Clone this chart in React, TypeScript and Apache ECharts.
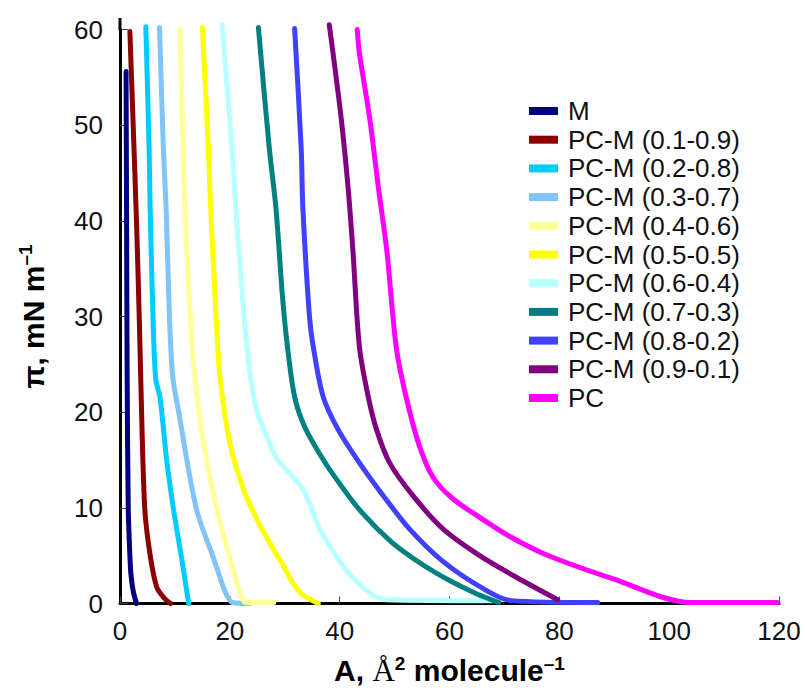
import React, { useEffect, useRef } from "react";
import * as echarts from "echarts";

// [A (Å² molecule⁻¹), π (mN m⁻¹)] — repeated points mark sharp corners
const M = [[1.1, 55.6], [1.2, 40], [1.3, 24], [1.5, 10], [1.8, 5], [2.0, 3], [2.4, 1.3], [3.0, 0]];
const PCM_01 = [[1.8, 59.8], [2.4, 50], [3.0, 40], [3.5, 30], [3.8, 23], [4.5, 10], [5.5, 5], [6.7, 1.7], [8, 0.6], [9.2, 0]];
const PCM_02 = [[4.7, 60.3], [5.3, 47.5], [5.5, 41], [6.0, 30], [6.5, 23.5], [7.3, 21.5], [8.5, 15], [9.7, 10], [11.2, 4.8], [12.5, 0]];
const PCM_03 = [[7.2, 60.2], [7.9, 47.5], [8.4, 41.3], [9.0, 30], [9.6, 23.7], [10.6, 20.3], [13.9, 9.9], [17, 4.8], [19.1, 1.3], [20.5, 0.1], [23.5, 0]];
const PCM_04 = [[10.9, 60], [11.5, 47.5], [11.8, 41.3], [12.8, 30], [13.6, 23.7], [15.2, 16.8], [17.6, 9.9], [20, 4.8], [21.8, 1.3], [23, 0.1], [28, 0.1]];
const PCM_05 = [[15, 60.2], [16.1, 47.5], [16.5, 41.3], [17.5, 30], [18.2, 23.7], [20, 16.8], [22.7, 11.6], [25.3, 8.4], [27.8, 5.8], [29.7, 4.0], [31.5, 2.1], [33.3, 0.9], [36.1, 0]];
const PCM_06 = [[18.6, 60.5], [20.4, 47.5], [21.1, 41.3], [22.6, 30], [23.8, 23.5], [25, 20], [26.7, 17.5], [28.5, 15.2], [31, 13.5], [33.5, 11.8], [36.4, 7.8], [40, 4.4], [43.6, 2.0], [46, 0.9], [48.5, 0.4], [68, 0.3]];
const PCM_07 = [[25.2, 60.2], [27.2, 47.5], [28.4, 41.3], [29.6, 32], [30.5, 26.8], [31.8, 21.6], [33.6, 18.5], [33.6, 18.5], [36.5, 15.5], [39.4, 13], [43.9, 9.6], [49.5, 6.4], [55, 4.1], [60, 2.4], [65, 1.0], [69, 0.1]];
const PCM_08 = [[31.8, 60.1], [33, 47.5], [33.3, 41.3], [34.5, 30], [35.2, 26.8], [37, 21.6], [39.7, 18.2], [43.6, 14.7], [47.9, 11.3], [52.7, 7.8], [58.8, 4.4], [66, 1.6], [71.2, 0.3], [71.2, 0.3], [87, 0.1]];
const PCM_09 = [[38.1, 60.5], [38.8, 57.5], [40.3, 50.6], [41.5, 43.7], [42.4, 37], [43.6, 26.8], [45.2, 21.6], [46.7, 18.2], [49.1, 14.7], [53.3, 11.3], [58.8, 7.8], [65.5, 5.0], [72, 2.8], [79.7, 0.4]];
const PC = [[43.2, 60], [43.6, 57.5], [45.5, 50.6], [47, 43.7], [48.6, 36.8], [50.3, 26.8], [52.1, 21.6], [54.5, 16.5], [57, 13.2], [60.5, 11.0], [65.5, 9.0], [71, 7.0], [77.6, 5.1], [89.7, 2.6], [104, 0.1], [104, 0.1], [119.7, 0.1]];

const NAMES = [
  "M",
  "PC-M (0.1-0.9)",
  "PC-M (0.2-0.8)",
  "PC-M (0.3-0.7)",
  "PC-M (0.4-0.6)",
  "PC-M (0.5-0.5)",
  "PC-M (0.6-0.4)",
  "PC-M (0.7-0.3)",
  "PC-M (0.8-0.2)",
  "PC-M (0.9-0.1)",
  "PC",
];
const DATA = [M, PCM_01, PCM_02, PCM_03, PCM_04, PCM_05, PCM_06, PCM_07, PCM_08, PCM_09, PC];
const COLORS = [
  "#000080",
  "#8b0000",
  "#00ccff",
  "#80c4f8",
  "#ffff99",
  "#ffff00",
  "#b8ffff",
  "#008080",
  "#4040ff",
  "#800080",
  "#ff00ff",
];

const X_TICKS = [0, 20, 40, 60, 80, 100, 120];
const Y_TICKS = [0, 10, 20, 30, 40, 50, 60];

const FONT = "'Liberation Sans', Arial, sans-serif";

export default function App() {
  const ref = useRef<HTMLDivElement>(null);
  useEffect(() => {
    if (!ref.current) return;
    const chart = echarts.init(ref.current, undefined, { renderer: "svg" });
    const left = 120;
    const top = 29.5;
    const bottom = 691 - 609;
    const right = 805 - 779;
    chart.setOption({
      animation: false,
      backgroundColor: "#ffffff",
      textStyle: { fontFamily: FONT },
      grid: { left, right, top, bottom, containLabel: false },
      legend: {
        orient: "vertical",
        left: 529,
        top: 98,
        padding: 0,
        icon: "rect",
        itemWidth: 29,
        itemHeight: 8,
        itemGap: 2.7,
        data: NAMES,
        textStyle: {
          fontFamily: FONT,
          fontSize: 26,
          lineHeight: 26,
          color: "#111",
          padding: [0, 0, 0, 5],
        },
      },
      xAxis: {
        type: "value",
        min: X_TICKS[0],
        max: X_TICKS[X_TICKS.length - 1],
        interval: 20,
        splitLine: { show: false },
        axisLine: { show: true, lineStyle: { color: "#000", width: 3 } },
        axisTick: { show: true, inside: true, length: 7, lineStyle: { color: "#444", width: 1 } },
        axisLabel: { fontSize: 26, color: "#111", margin: 14, fontFamily: FONT },
        name: "{b|A, }{s|Å}{sup|2}{b| molecule}{sup|–1}",
        nameLocation: "middle",
        nameGap: 50,
        nameTextStyle: {
          rich: {
            b: { fontFamily: FONT, fontWeight: "bold", fontSize: 30, color: "#000", lineHeight: 34 },
            s: { fontFamily: "'Liberation Serif', 'Times New Roman', serif", fontSize: 31, color: "#000", lineHeight: 34 },
            sup: { fontFamily: FONT, fontWeight: "bold", fontSize: 19, color: "#000", verticalAlign: "top", lineHeight: 22 },
          },
        },
      },
      yAxis: {
        type: "value",
        min: Y_TICKS[0],
        max: Y_TICKS[Y_TICKS.length - 1],
        interval: 10,
        splitLine: { show: false },
        axisLine: { show: true, lineStyle: { color: "#000", width: 3 } },
        axisTick: { show: true, inside: true, length: 8, lineStyle: { color: "#444", width: 1 } },
        axisLabel: { fontSize: 26, color: "#111", margin: 17, fontFamily: FONT },
        name: "{b|π, mN m}{sup|–1}",
        nameLocation: "middle",
        nameRotate: 90,
        nameGap: 70,
        nameTextStyle: {
          rich: {
            b: { fontFamily: FONT, fontWeight: "bold", fontSize: 30, color: "#000", lineHeight: 34 },
            sup: { fontFamily: FONT, fontWeight: "bold", fontSize: 19, color: "#000", verticalAlign: "top", lineHeight: 22 },
          },
        },
      },
      graphic: [
        {
          type: "line",
          shape: { x1: left, y1: 18, x2: left, y2: top + 1 },
          style: { stroke: "#000", lineWidth: 3 },
          z: 10,
        },
      ],
      series: NAMES.map((name, i) => ({
        name,
        type: "line",
        data: DATA[i],
        smooth: 0.3,
        symbol: "none",
        clip: false,
        color: COLORS[i],
        lineStyle: { color: COLORS[i], width: 5, cap: "round", join: "round" },
        itemStyle: { color: COLORS[i] },
      })),
    });
    return () => chart.dispose();
  }, []);
  return (
    <div
      ref={ref}
      style={{ position: "absolute", left: 0, top: 0, width: 805, height: 691 }}
    />
  );
}
